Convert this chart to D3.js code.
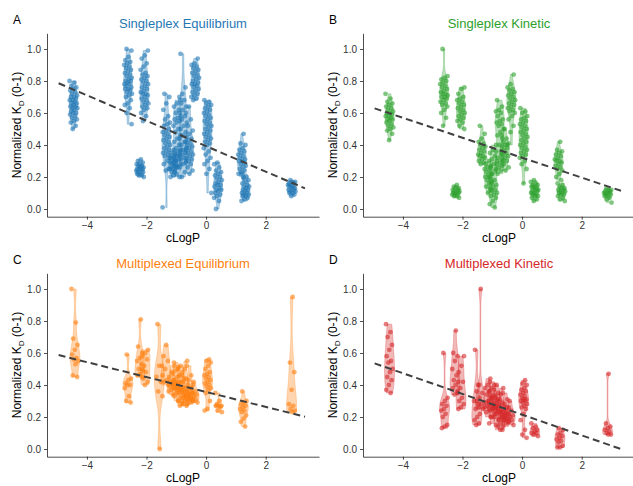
<!DOCTYPE html>
<html>
<head>
<meta charset="utf-8">
<script src="https://d3js.org/d3.v7.min.js"></script>
<style>
body { margin: 0; background: #fff; }
svg text { font-family: "Liberation Sans", Arial, Helvetica, sans-serif; }
.axis path, .axis line { stroke: #000; stroke-width: 0.7px; }
.axis text { fill: #333; font-size: 10px; }
</style>
</head>
<body>
<svg width="633" height="486"></svg>
<script>

// ---- data ----
var panelLetters = ["A", "B", "C", "D"];
var panelTitles = ["Singleplex Equilibrium", "Singleplex Kinetic", "Multiplexed Equilibrium", "Multiplexed Kinetic"];
var panelColors = ["#1f77b4", "#2ca02c", "#ff7f0e", "#d62728"];
var xTicks = [-4, -2, 0, 2];
var yTicks = [0, 0.2, 0.4, 0.6, 0.8, 1.0];

// dashed fit lines: value at fitRange[0] and fitRange[1]
var fitRange = [-4.95, 3.32];
var fitSingleEq = [0.786, 0.129];
var fitSingleKin = [0.629, 0.114];
var fitMultiEq = [0.587, 0.202];
var fitMultiKin = [0.535, 0.0];

// Singleplex Equilibrium
var singleEqX = [-4.45, -2.62, -2.22, -2.07, -1.33, -1.1, -0.97, -0.77, -0.57, -0.36, 0.05, 0.4, 1.2, 1.32, 2.87];
var singleEqY = [
  [0.80,0.79,0.77,0.76,0.75,0.74,0.73,0.72,0.71,0.70,0.70,0.69,0.68,0.68,0.67,0.66,0.66,0.65,0.64,0.64,0.63,0.63,0.62,0.61,0.60,0.60,0.59,0.58,0.57,0.56,0.55,0.54,0.52,0.50],
  [1.00,0.99,0.95,0.93,0.92,0.91,0.90,0.89,0.88,0.87,0.86,0.85,0.84,0.83,0.82,0.81,0.80,0.80,0.79,0.78,0.78,0.77,0.76,0.75,0.75,0.74,0.73,0.72,0.71,0.70,0.68,0.66,0.65,0.63,0.60,0.53],
  [0.31,0.30,0.29,0.28,0.28,0.27,0.27,0.26,0.26,0.25,0.25,0.25,0.24,0.24,0.23,0.23,0.22,0.22,0.21,0.21,0.20],
  [0.99,0.96,0.94,0.91,0.89,0.87,0.85,0.84,0.83,0.82,0.81,0.80,0.79,0.78,0.77,0.76,0.75,0.74,0.73,0.72,0.72,0.71,0.70,0.69,0.68,0.67,0.66,0.65,0.64,0.63,0.62,0.60,0.58,0.55],
  [0.72,0.70,0.66,0.62,0.58,0.56,0.54,0.53,0.52,0.50,0.49,0.48,0.47,0.46,0.45,0.44,0.43,0.42,0.41,0.40,0.39,0.38,0.37,0.36,0.35,0.34,0.33,0.32,0.30,0.28,0.25,0.24,0.01],
  [0.37,0.35,0.34,0.33,0.32,0.31,0.30,0.30,0.29,0.29,0.28,0.28,0.27,0.27,0.26,0.26,0.25,0.25,0.24,0.23,0.22,0.21,0.20],
  [0.68,0.66,0.64,0.62,0.60,0.58,0.57,0.56,0.55,0.54,0.52,0.50,0.48,0.46,0.44,0.42,0.40,0.38,0.37,0.36,0.35,0.34,0.33,0.32,0.31,0.30,0.28,0.26,0.23,0.20],
  [0.97,0.76,0.72,0.70,0.68,0.66,0.64,0.62,0.60,0.58,0.56,0.54,0.52,0.50,0.48,0.46,0.44,0.42,0.40,0.38,0.37,0.36,0.35,0.34,0.33,0.32,0.31,0.30,0.28,0.26,0.23,0.20],
  [0.64,0.60,0.56,0.52,0.49,0.47,0.45,0.44,0.43,0.42,0.41,0.40,0.39,0.38,0.37,0.36,0.35,0.34,0.33,0.32,0.31,0.30,0.29,0.28,0.26,0.24,0.22],
  [0.94,0.91,0.90,0.89,0.88,0.87,0.86,0.85,0.84,0.83,0.82,0.81,0.80,0.79,0.78,0.78,0.77,0.76,0.75,0.74,0.73,0.72,0.71,0.70,0.69,0.68],
  [0.68,0.67,0.66,0.65,0.64,0.63,0.62,0.61,0.60,0.59,0.58,0.57,0.56,0.55,0.54,0.53,0.52,0.51,0.50,0.49,0.48,0.47,0.46,0.45,0.44,0.43,0.42,0.41,0.40,0.38,0.36,0.34,0.32,0.30,0.28,0.25,0.22,0.10],
  [0.29,0.28,0.26,0.24,0.23,0.22,0.21,0.20,0.19,0.18,0.17,0.16,0.15,0.15,0.14,0.13,0.12,0.12,0.11,0.10,0.09,0.08,0.07,0.05,0.00],
  [0.47,0.41,0.40,0.38,0.37,0.36,0.35,0.34,0.33,0.32,0.31,0.30,0.30,0.29,0.28,0.27,0.26,0.25,0.24,0.23,0.22,0.20],
  [0.22,0.20,0.19,0.18,0.17,0.16,0.15,0.14,0.14,0.13,0.12,0.12,0.11,0.10,0.10,0.09,0.09,0.08,0.08,0.07,0.06,0.05],
  [0.18,0.17,0.17,0.16,0.16,0.15,0.15,0.14,0.14,0.13,0.13,0.12,0.12,0.11,0.11,0.10,0.10,0.09,0.08]
];

// Singleplex Kinetic
var singleKinX = [-4.45, -2.62, -2.22, -2.05, -1.35, -1.13, -0.97, -0.75, -0.58, -0.36, 0.05, 0.42, 1.22, 1.32, 2.87];
var singleKinY = [
  [0.72,0.69,0.67,0.66,0.65,0.64,0.63,0.62,0.61,0.60,0.60,0.59,0.58,0.58,0.57,0.56,0.56,0.55,0.54,0.53,0.52,0.51,0.50,0.49,0.47,0.43],
  [1.00,0.83,0.82,0.81,0.80,0.79,0.78,0.77,0.76,0.75,0.74,0.73,0.72,0.72,0.71,0.70,0.70,0.69,0.68,0.67,0.66,0.65,0.64,0.62,0.60,0.57,0.52],
  [0.15,0.14,0.13,0.13,0.12,0.12,0.11,0.11,0.10,0.10,0.10,0.09,0.09,0.08,0.08,0.07],
  [0.76,0.75,0.72,0.70,0.69,0.68,0.67,0.66,0.65,0.64,0.63,0.62,0.61,0.60,0.59,0.58,0.57,0.56,0.55,0.54,0.52,0.50],
  [0.52,0.47,0.44,0.42,0.41,0.40,0.39,0.38,0.37,0.36,0.35,0.34,0.33,0.33,0.32,0.31,0.30,0.29,0.28],
  [0.30,0.28,0.27,0.26,0.25,0.24,0.23,0.22,0.21,0.20,0.19,0.18,0.17,0.16,0.14,0.12,0.10],
  [0.40,0.37,0.35,0.33,0.31,0.30,0.28,0.26,0.24,0.22,0.20,0.18,0.16,0.15,0.14,0.13,0.12,0.11,0.10,0.09,0.08,0.07,0.05,0.03,0.01],
  [0.68,0.64,0.62,0.61,0.60,0.58,0.56,0.55,0.54,0.53,0.52,0.50,0.48,0.46,0.44,0.40,0.36,0.34,0.32,0.30,0.29,0.28,0.27,0.26,0.25,0.24,0.22],
  [0.50,0.46,0.44,0.42,0.41,0.40,0.39,0.38,0.37,0.36,0.35,0.34,0.33,0.32,0.31,0.30,0.28,0.26,0.24],
  [0.84,0.78,0.76,0.75,0.74,0.73,0.72,0.71,0.70,0.69,0.68,0.67,0.66,0.65,0.64,0.63,0.62,0.61,0.60,0.58,0.56,0.52,0.48,0.40],
  [0.63,0.61,0.60,0.58,0.57,0.56,0.55,0.54,0.53,0.52,0.51,0.50,0.49,0.48,0.47,0.46,0.45,0.44,0.43,0.42,0.41,0.40,0.39,0.38,0.37,0.36,0.35,0.34,0.33,0.32,0.30,0.28,0.25,0.16],
  [0.18,0.17,0.16,0.15,0.15,0.14,0.14,0.13,0.13,0.12,0.12,0.11,0.11,0.10,0.10,0.09,0.09,0.08,0.08,0.07,0.06,0.05],
  [0.42,0.37,0.36,0.35,0.34,0.33,0.32,0.31,0.30,0.30,0.29,0.28,0.27,0.26,0.25,0.24,0.22,0.20,0.18],
  [0.16,0.15,0.14,0.13,0.13,0.12,0.12,0.11,0.11,0.10,0.10,0.09,0.09,0.08,0.07,0.06,0.05],
  [0.13,0.12,0.12,0.11,0.11,0.10,0.10,0.10,0.09,0.09,0.08,0.08,0.07,0.06,0.04]
];

// Multiplexed Equilibrium
var multiEqX = [-4.4, -2.62, -2.22, -2.05, -1.57, -1.35, -1.15, -1.0, -0.85, -0.7, -0.55, -0.4, 0.05, 0.42, 1.25, 2.87];
var multiEqY = [
  [1.00,0.79,0.69,0.65,0.62,0.59,0.57,0.56,0.55,0.53,0.46,0.45],
  [0.59,0.44,0.43,0.41,0.40,0.40,0.38,0.33,0.30,0.29],
  [0.81,0.64,0.60,0.57,0.55,0.53,0.50,0.49,0.47,0.46,0.45],
  [0.62,0.60,0.58,0.56,0.52,0.50,0.48,0.44,0.42,0.40],
  [0.78,0.52,0.52,0.45,0.42,0.36,0.33,0.00],
  [0.65,0.58,0.55,0.50,0.46,0.43,0.42,0.40],
  [0.52,0.48,0.45,0.43,0.42,0.41,0.40,0.39,0.38,0.37,0.36,0.34],
  [0.54,0.51,0.49,0.47,0.45,0.43,0.42,0.41,0.40,0.39,0.38,0.37,0.35,0.33,0.30],
  [0.52,0.50,0.48,0.46,0.44,0.42,0.40,0.39,0.38,0.37,0.36,0.35,0.34,0.32,0.30,0.28,0.27],
  [0.55,0.50,0.46,0.44,0.42,0.40,0.38,0.37,0.36,0.35,0.34,0.33,0.32,0.31,0.30,0.29,0.27],
  [0.52,0.46,0.43,0.40,0.38,0.36,0.35,0.34,0.33,0.32,0.31,0.30,0.29,0.28],
  [0.42,0.38,0.36,0.35,0.34,0.33,0.32,0.31,0.30,0.29],
  [0.56,0.55,0.54,0.52,0.50,0.48,0.47,0.46,0.45,0.44,0.43,0.42,0.41,0.40,0.39,0.38,0.37,0.35,0.30,0.25,0.24],
  [0.35,0.30,0.28,0.27,0.27,0.27,0.26,0.24,0.23],
  [0.36,0.30,0.29,0.28,0.27,0.26,0.25,0.24,0.23,0.21,0.19,0.17,0.14],
  [0.95,0.54,0.48,0.37,0.28,0.27,0.25,0.24,0.23]
];

// Multiplexed Kinetic
var multiKinX = [-4.45, -2.6, -2.25, -2.05, -1.52, -1.4, -1.15, -1.0, -0.85, -0.7, -0.55, -0.4, 0.05, 0.42, 1.27, 2.87];
var multiKinY = [
  [0.78,0.73,0.70,0.65,0.62,0.58,0.55,0.54,0.50,0.48,0.45,0.43,0.40,0.37,0.35],
  [0.60,0.32,0.30,0.28,0.27,0.25,0.24,0.22,0.20,0.15,0.14,0.13],
  [0.74,0.60,0.58,0.55,0.50,0.46,0.43,0.42,0.40,0.38,0.36,0.34],
  [0.58,0.52,0.48,0.42,0.38,0.35,0.32,0.30,0.28,0.26,0.25],
  [0.62,0.40,0.36,0.30,0.28,0.25,0.22,0.20,0.18,0.16,0.15],
  [1.00,0.40,0.35,0.32,0.30,0.28,0.26,0.25],
  [0.44,0.40,0.38,0.36,0.34,0.32,0.30,0.29,0.28,0.27,0.26,0.25,0.23,0.20],
  [0.42,0.40,0.38,0.36,0.34,0.33,0.32,0.31,0.30,0.28,0.27,0.26,0.25,0.24,0.22,0.20,0.16],
  [0.40,0.37,0.35,0.33,0.31,0.30,0.29,0.28,0.27,0.26,0.25,0.24,0.23,0.22,0.20,0.18,0.15,0.12],
  [0.38,0.34,0.31,0.29,0.27,0.26,0.25,0.24,0.23,0.22,0.21,0.20,0.19,0.18,0.16,0.14,0.12],
  [0.35,0.31,0.28,0.26,0.24,0.23,0.22,0.21,0.20,0.19,0.18,0.17,0.16,0.14],
  [0.30,0.26,0.24,0.22,0.21,0.20,0.19,0.18,0.17,0.15],
  [0.43,0.41,0.40,0.38,0.37,0.36,0.35,0.34,0.33,0.32,0.31,0.31,0.30,0.30,0.29,0.28,0.27,0.26,0.25,0.22,0.18,0.12,0.09,0.07],
  [0.16,0.14,0.13,0.12,0.11,0.10,0.10,0.09,0.08],
  [0.13,0.12,0.10,0.09,0.08,0.07,0.06,0.05,0.04,0.02,0.01,0.01],
  [0.47,0.16,0.14,0.13,0.12,0.11,0.10,0.09,0.09]
];

// ---- layout ----
var svg = d3.select("svg");
var panelOffsets = [[0, 0], [316, 0], [0, 240], [316, 240]];
var groupXs = [singleEqX, singleKinX, multiEqX, multiKinX];
var groupYs = [singleEqY, singleKinY, multiEqY, multiKinY];
var fits = [fitSingleEq, fitSingleKin, fitMultiEq, fitMultiKin];

var x = d3.scaleLinear().domain([-5.34, 3.79]).range([47, 319]);
var y = d3.scaleLinear().domain([-0.048, 1.098]).range([216.7, 33.3]);

// gaussian kde, bw = nrd0
function kde(vals) {
  var s = vals.slice().sort(d3.ascending);
  var n = s.length;
  var sd = d3.deviation(s) || 0;
  var iqr = d3.quantile(s, 0.75) - d3.quantile(s, 0.25);
  var lo = Math.min(sd, iqr / 1.34);
  if (!(lo > 0)) lo = sd || 0.02;
  var bw = 0.9 * lo * Math.pow(n, -0.2);
  var out = [];
  var a = s[0], b = s[n - 1], steps = 60;
  for (var k = 0; k <= steps; k++) {
    var t = a + (b - a) * k / steps, dsum = 0;
    for (var j = 0; j < n; j++) {
      var u = (t - s[j]) / bw;
      dsum += Math.exp(-0.5 * u * u);
    }
    out.push({v: t, d: dsum / (n * bw * Math.sqrt(2 * Math.PI))});
  }
  return out;
}

panelTitles.forEach(function(title, p) {
  var g = svg.append("g")
      .attr("transform", "translate(" + panelOffsets[p][0] + "," + panelOffsets[p][1] + ")");
  var col = panelColors[p];
  var xs = groupXs[p], ys = groupYs[p];
  var jit = p < 2 ? 4 : 3.5;
  var half = p < 2 ? 4.5 : 5;

  xs.forEach(function(cx, gi) {
    var vals = ys[gi];
    var dens = kde(vals);
    var dmax = d3.max(dens, function(d) { return d.d; });
    var w = d3.scaleLinear().domain([0, dmax]).range([0.4, half]);
    var area = d3.area()
        .curve(d3.curveBasis)
        .y(function(d) { return y(d.v); })
        .x0(function(d) { return x(cx) - w(d.d); })
        .x1(function(d) { return x(cx) + w(d.d); });
    g.append("path")
        .datum(dens)
        .attr("d", area)
        .attr("fill", col)
        .attr("fill-opacity", 0.33)
        .attr("stroke", col)
        .attr("stroke-opacity", 0.45)
        .attr("stroke-width", 0.6);

    g.selectAll(null)
        .data(vals)
      .enter().append("circle")
        .attr("cx", function(d, i) { return x(cx) + (((i * 0.618034 + gi * 0.31) % 1) - 0.5) * 2 * jit; })
        .attr("cy", function(d) { return y(d); })
        .attr("r", 2.4)
        .attr("fill", col)
        .attr("fill-opacity", 0.6);
  });

  // fit line
  g.append("line")
      .attr("x1", x(fitRange[0])).attr("y1", y(fits[p][0]))
      .attr("x2", x(fitRange[1])).attr("y2", y(fits[p][1]))
      .attr("stroke", "#404040")
      .attr("stroke-width", 2)
      .attr("stroke-dasharray", "7,4");

  g.append("g")
      .attr("class", "axis")
      .attr("transform", "translate(0," + 216.7 + ")")
      .call(d3.axisBottom(x).tickValues(xTicks).tickSize(3).tickSizeOuter(0).tickPadding(2).tickFormat(d3.format("d")));

  g.append("g")
      .attr("class", "axis")
      .attr("transform", "translate(" + 47 + ",0)")
      .call(d3.axisLeft(y).tickValues(yTicks).tickSize(3).tickSizeOuter(0).tickPadding(3).tickFormat(d3.format(".1f")));

  g.append("text")
      .attr("x", 183).attr("y", 28)
      .attr("text-anchor", "middle")
      .style("font-size", "13px")
      .attr("fill", col)
      .text(title);

  g.append("text")
      .attr("x", 13).attr("y", 24)
      .style("font-size", "12px")
      .attr("fill", "#000")
      .text(panelLetters[p]);

  g.append("text")
      .attr("x", 183).attr("y", 242)
      .attr("text-anchor", "middle")
      .style("font-size", "12px")
      .attr("fill", "#000")
      .text("cLogP");

  var yl = g.append("text")
      .attr("transform", "translate(21,125) rotate(-90)")
      .attr("text-anchor", "middle")
      .style("font-size", "12px")
      .attr("fill", "#000");
  yl.append("tspan").text("Normalized K");
  yl.append("tspan").attr("dy", 3).style("font-size", "8px").text("D");
  yl.append("tspan").attr("dy", -3).text(" (0-1)");
});

</script>
</body>
</html>
